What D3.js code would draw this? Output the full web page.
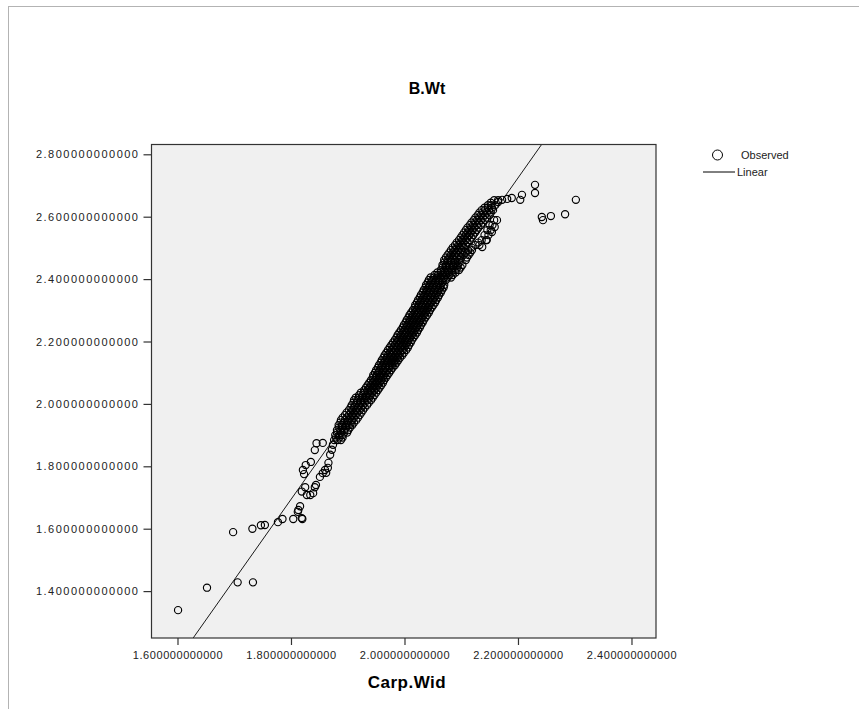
<!DOCTYPE html>
<html><head><meta charset="utf-8">
<script src="https://cdn.jsdelivr.net/npm/d3@7"></script>
<style>
html,body{margin:0;padding:0;background:#fff;}
svg{display:block;}
text{font-family:Arial,"Liberation Sans",sans-serif;}
</style></head>
<body>
<svg id="chart" width="859" height="709"></svg>
<script>
// ---- data ----
const chartTitle = "B.Wt";
const xTitle = "Carp.Wid";
const xTicks = [1.6, 1.8, 2.0, 2.2, 2.4];
const yTicks = [1.4, 1.6, 1.8, 2.0, 2.2, 2.4, 2.6, 2.8];
const xDomain = [1.5542, 2.4432];
const yDomain = [1.2497, 2.8314];
// linear fit: y = intercept + slope * x
const fitIntercept = -2.943;
const fitSlope = 2.576;
const legendLabels = ["Observed", "Linear"];

// loose points (lower tail, upper tail)
const scatterPoints = [
  [1.601,1.339],[1.652,1.411],[1.706,1.428],[1.733,1.428],[1.698,1.589],[1.732,1.600],
  [1.747,1.611],[1.754,1.612],[1.777,1.621],[1.785,1.631],[1.804,1.631],[1.820,1.631],
  [1.819,1.634],[1.812,1.654],[1.813,1.660],[1.816,1.672],[1.819,1.719],[1.828,1.708],
  [1.834,1.708],[1.839,1.714],[1.844,1.740],[1.825,1.733],[1.842,1.733],[1.821,1.788],
  [1.823,1.775],[1.826,1.804],[1.835,1.814],[1.842,1.852],[1.845,1.874],[1.856,1.875],
  [1.856,1.778],[1.862,1.779],[1.866,1.811],[1.851,1.766],[1.860,1.788],[1.865,1.795],
  [1.869,1.837],[1.872,1.853],[1.874,1.869],
  [2.165,2.647],[2.172,2.654],[2.181,2.657],[2.189,2.660],[2.204,2.654],[2.207,2.670],
  [2.230,2.702],[2.230,2.676],[2.242,2.599],[2.244,2.589],[2.258,2.602],[2.283,2.608],
  [2.302,2.654],[2.163,2.589],[2.159,2.567],[2.154,2.551],[2.145,2.525],[2.137,2.503]
];

// dense band: each row is [B.Wt, [Carp.Wid values]]
const bandRows = [
  [1.884,[1.876,1.882,1.888]],
  [1.892,[1.879,1.885,1.891]],
  [1.900,[1.878,1.885,1.891]],
  [1.908,[1.881,1.888,1.894,1.899]],
  [1.916,[1.881,1.887,1.894,1.901]],
  [1.924,[1.884,1.890,1.897,1.904]],
  [1.932,[1.884,1.890,1.897,1.903,1.908]],
  [1.940,[1.887,1.893,1.900,1.906,1.911]],
  [1.948,[1.888,1.895,1.901,1.908,1.915]],
  [1.956,[1.891,1.898,1.904,1.911,1.918]],
  [1.964,[1.895,1.902,1.908,1.914,1.921]],
  [1.972,[1.898,1.905,1.911,1.917,1.924]],
  [1.980,[1.902,1.908,1.915,1.921,1.927]],
  [1.988,[1.905,1.911,1.918,1.924,1.930]],
  [1.996,[1.907,1.913,1.920,1.927,1.934]],
  [2.004,[1.910,1.916,1.923,1.930,1.937]],
  [2.012,[1.911,1.917,1.923,1.929,1.935,1.941]],
  [2.020,[1.914,1.920,1.926,1.932,1.938,1.944]],
  [2.028,[1.920,1.926,1.933,1.940,1.947]],
  [2.036,[1.923,1.929,1.936,1.943,1.950]],
  [2.044,[1.929,1.935,1.941,1.947,1.953]],
  [2.052,[1.932,1.938,1.944,1.950,1.956]],
  [2.060,[1.935,1.941,1.947,1.953,1.959]],
  [2.068,[1.938,1.944,1.950,1.956,1.962]],
  [2.076,[1.941,1.947,1.953,1.959,1.964]],
  [2.084,[1.944,1.950,1.956,1.962,1.967]],
  [2.092,[1.945,1.951,1.958,1.964,1.970]],
  [2.100,[1.948,1.954,1.961,1.967,1.973]],
  [2.108,[1.950,1.956,1.963,1.970,1.976]],
  [2.116,[1.953,1.959,1.966,1.973,1.979]],
  [2.124,[1.955,1.961,1.967,1.973,1.978,1.983]],
  [2.132,[1.958,1.964,1.970,1.976,1.981,1.986]],
  [2.140,[1.960,1.966,1.972,1.978,1.984,1.989]],
  [2.148,[1.963,1.969,1.975,1.981,1.987,1.992]],
  [2.156,[1.965,1.971,1.977,1.984,1.990,1.996]],
  [2.164,[1.968,1.974,1.980,1.987,1.993,1.999]],
  [2.173,[1.971,1.977,1.984,1.990,1.997,2.003]],
  [2.181,[1.974,1.980,1.987,1.993,2.000,2.006]],
  [2.189,[1.977,1.983,1.990,1.996,2.002,2.008]],
  [2.197,[1.980,1.986,1.993,1.999,2.005,2.011]],
  [2.205,[1.983,1.989,1.995,2.001,2.007,2.013]],
  [2.213,[1.986,1.992,1.998,2.004,2.010,2.016]],
  [2.221,[1.988,1.994,2.000,2.007,2.013,2.019]],
  [2.229,[1.991,1.997,2.003,2.010,2.016,2.022]],
  [2.237,[1.994,2.000,2.006,2.012,2.018,2.024]],
  [2.245,[1.997,2.003,2.009,2.015,2.021,2.027]],
  [2.253,[1.999,2.005,2.011,2.017,2.023,2.029]],
  [2.261,[2.002,2.008,2.014,2.020,2.026,2.032]],
  [2.269,[2.004,2.010,2.016,2.022,2.028,2.034]],
  [2.277,[2.007,2.013,2.019,2.025,2.031,2.037]],
  [2.285,[2.009,2.015,2.021,2.028,2.034,2.040]],
  [2.293,[2.012,2.018,2.024,2.031,2.037,2.043]],
  [2.301,[2.015,2.021,2.027,2.033,2.039,2.045]],
  [2.309,[2.018,2.024,2.030,2.036,2.042,2.048]],
  [2.317,[2.019,2.025,2.031,2.038,2.044,2.051]],
  [2.325,[2.022,2.028,2.034,2.041,2.047,2.054]],
  [2.333,[2.024,2.030,2.036,2.043,2.050,2.056]],
  [2.341,[2.027,2.033,2.039,2.046,2.053,2.059]],
  [2.349,[2.029,2.035,2.041,2.048,2.055,2.061]],
  [2.357,[2.032,2.038,2.044,2.051,2.058,2.064]],
  [2.365,[2.034,2.040,2.046,2.053,2.060,2.066]],
  [2.373,[2.037,2.043,2.049,2.056,2.063,2.069]],
  [2.381,[2.038,2.044,2.051,2.057,2.064,2.070]],
  [2.389,[2.041,2.047,2.054,2.060,2.067]],
  [2.397,[2.043,2.049,2.055,2.061,2.067,2.073]],
  [2.405,[2.046,2.052,2.058,2.064,2.070,2.076,2.082]],
  [2.413,[2.053,2.059,2.066,2.073,2.079,2.085]],
  [2.421,[2.058,2.064,2.071,2.078,2.084,2.090]],
  [2.429,[2.064,2.070,2.076,2.083,2.090,2.096]],
  [2.437,[2.067,2.073,2.079,2.086,2.093,2.099]],
  [2.445,[2.067,2.073,2.079,2.086,2.094,2.102]],
  [2.453,[2.070,2.076,2.082,2.089,2.097]],
  [2.461,[2.070,2.076,2.082,2.089,2.097,2.108]],
  [2.469,[2.073,2.079,2.085,2.092,2.100,2.110]],
  [2.477,[2.076,2.082,2.088,2.095,2.104,2.113]],
  [2.485,[2.079,2.085,2.091,2.098,2.107,2.116]],
  [2.493,[2.082,2.088,2.094,2.101,2.112,2.119]],
  [2.501,[2.085,2.091,2.097,2.104,2.118]],
  [2.509,[2.089,2.095,2.101,2.108,2.125,2.132]],
  [2.517,[2.092,2.098,2.104,2.111,2.130]],
  [2.525,[2.096,2.102,2.108,2.115,2.136,2.144]],
  [2.533,[2.099,2.105,2.111,2.118]],
  [2.541,[2.102,2.108,2.114,2.121,2.141,2.148]],
  [2.549,[2.105,2.111,2.117,2.124]],
  [2.557,[2.108,2.114,2.120,2.127,2.146,2.152]],
  [2.565,[2.111,2.117,2.123,2.130]],
  [2.573,[2.115,2.121,2.128,2.135,2.150,2.155]],
  [2.581,[2.118,2.124,2.131,2.138]],
  [2.589,[2.122,2.128,2.135,2.142,2.158]],
  [2.597,[2.125,2.131,2.138,2.145]],
  [2.605,[2.129,2.135,2.142,2.150]],
  [2.613,[2.132,2.138,2.145,2.152]],
  [2.621,[2.136,2.142,2.149,2.156]],
  [2.629,[2.141,2.147,2.154]],
  [2.637,[2.147,2.153,2.160]],
  [2.645,[2.152]],
  [2.653,[2.158,2.165]]
];

// ---- drawing ----
const observed = scatterPoints.concat(
  bandRows.flatMap(([y, xs]) => xs.map(x => [x, y]))
);

const svg = d3.select("#chart");
const plot = {left: 151.5, right: 656, top: 144.5, bottom: 638};

const x = d3.scaleLinear().domain(xDomain).range([plot.left, plot.right]);
const y = d3.scaleLinear().domain(yDomain).range([plot.bottom, plot.top]);
const fmt = d3.format(".12f");

// page frame (dotted)
svg.append("rect").attr("x", 8.5).attr("y", 6.5).attr("width", 900).attr("height", 760)
  .attr("fill", "none").attr("stroke", "#666").attr("stroke-dasharray", "1,1");

svg.append("text").attr("x", 427).attr("y", 94).attr("text-anchor", "middle")
  .attr("font-size", 16).attr("font-weight", "bold").text(chartTitle);

svg.append("rect").attr("x", plot.left).attr("y", plot.top)
  .attr("width", plot.right - plot.left).attr("height", plot.bottom - plot.top)
  .attr("fill", "#f0f0f0");

svg.append("clipPath").attr("id", "clip").append("rect")
  .attr("x", plot.left).attr("y", plot.top)
  .attr("width", plot.right - plot.left).attr("height", plot.bottom - plot.top);

// axes
const xAxis = svg.append("g").attr("transform", `translate(0,${plot.bottom})`)
  .call(d3.axisBottom(x).tickValues(xTicks).tickFormat(fmt).tickSize(7).tickPadding(6));
const yAxis = svg.append("g").attr("transform", `translate(${plot.left},0)`)
  .call(d3.axisLeft(y).tickValues(yTicks).tickFormat(fmt).tickSize(8).tickPadding(5));
[xAxis, yAxis].forEach(a => {
  a.select(".domain").remove();
  a.selectAll(".tick line").attr("stroke", "#333").attr("stroke-width", 1.2);
  a.selectAll(".tick text").attr("fill", "#222").attr("font-size", 11)
    .attr("font-family", "Arial, 'Liberation Sans', sans-serif");
});
xAxis.selectAll(".tick text").attr("letter-spacing", 0.55);
yAxis.selectAll(".tick text").attr("letter-spacing", 1.5).attr("dx", 1);

svg.append("text").attr("x", 407).attr("y", 688).attr("text-anchor", "middle")
  .attr("font-size", 17).attr("font-weight", "bold").attr("letter-spacing", 0.5).text(xTitle);

// points and fit line
const g = svg.append("g").attr("clip-path", "url(#clip)");
g.selectAll("circle").data(observed).join("circle")
  .attr("cx", d => x(d[0])).attr("cy", d => y(d[1])).attr("r", 3.6)
  .attr("fill", "none").attr("stroke", "#000").attr("stroke-width", 1.15);

const lineX = xDomain;
g.append("line")
  .attr("x1", x(lineX[0])).attr("y1", y(fitIntercept + fitSlope * lineX[0]))
  .attr("x2", x(lineX[1])).attr("y2", y(fitIntercept + fitSlope * lineX[1]))
  .attr("stroke", "#000").attr("stroke-width", 0.9);

// frame
svg.append("rect").attr("x", plot.left).attr("y", plot.top)
  .attr("width", plot.right - plot.left).attr("height", plot.bottom - plot.top)
  .attr("fill", "none").attr("stroke", "#333").attr("stroke-width", 1.2);

// legend
const lg = svg.append("g");
lg.append("circle").attr("cx", 717.5).attr("cy", 155).attr("r", 5)
  .attr("fill", "none").attr("stroke", "#000").attr("stroke-width", 1);
lg.append("text").attr("x", 741).attr("y", 159).attr("font-size", 11).attr("fill", "#222").text(legendLabels[0]);
lg.append("line").attr("x1", 703).attr("x2", 735).attr("y1", 172).attr("y2", 172)
  .attr("stroke", "#000").attr("stroke-width", 1);
lg.append("text").attr("x", 737).attr("y", 176).attr("font-size", 11).attr("fill", "#222").text(legendLabels[1]);
</script>
</body></html>
